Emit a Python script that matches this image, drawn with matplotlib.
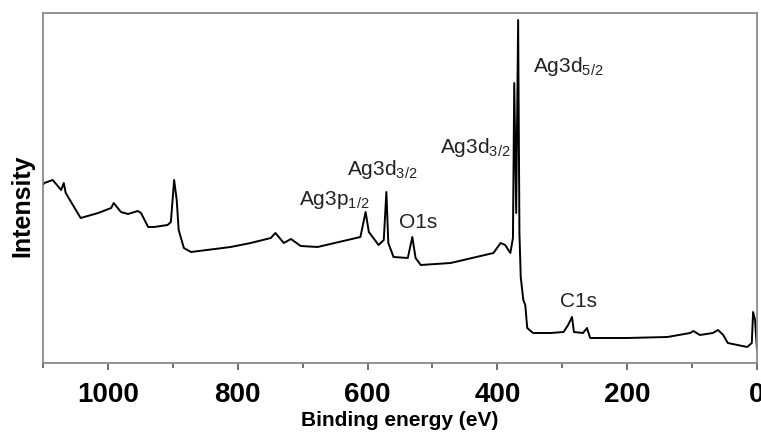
import numpy as np
import matplotlib.pyplot as plt
from matplotlib.ticker import MultipleLocator

plt.rcParams['font.family'] = ['Liberation Sans', 'DejaVu Sans']
plt.rcParams['mathtext.default'] = 'regular'

# XPS survey spectrum (binding energy in eV, intensity a.u.)
energy = [1100, 1098, 1085, 1072, 1068, 1065, 1042, 1015, 995, 991, 980, 969,
          954, 949, 938, 929, 908, 903, 898, 894, 891, 883, 872, 811, 780, 749,
          742, 729, 718, 703, 677, 611, 603, 598, 583, 575, 571, 568, 560, 538,
          531, 526, 518, 472, 406, 395, 388, 380, 376, 374, 371, 368, 366, 364,
          360, 357, 354, 345, 318, 298, 291, 285, 282, 268, 262, 257, 200, 138,
          103, 98, 88, 68, 60, 52, 45, 15, 8, 6, 3, 0]
intensity = [178, 180, 183, 173, 180, 170, 145, 150, 155, 160, 151, 149,
             152, 150, 136, 136, 138, 141, 183, 163, 133, 115, 111, 116, 120, 125,
             130, 120, 124, 117, 116, 126, 151, 131, 118, 123, 171, 120, 106, 105,
             126, 105, 98, 100, 110, 120, 118, 110, 125, 280, 150, 343, 130, 86,
             63, 58, 35, 30, 30, 31, 38, 46, 31, 30, 35, 25, 25, 26,
             30, 32, 28, 30, 33, 28, 20, 16, 20, 51, 43, 13]

# peak labels: (main, sub, x, y)
peak_labels = [
    ("Ag3p", "1/2", 706, 163),
    ("Ag3d", "3/2", 631, 194),
    ("O1s", "", 552, 141),
    ("Ag3d", "3/2", 488, 216),
    ("Ag3d", "5/2", 345, 297),
    ("C1s", "", 303, 62),
]

fig = plt.figure(figsize=(7.61, 4.48), dpi=100)
ax = fig.add_axes([43/761, 85/448, 714/761, 350/448])

ax.plot(energy, intensity, color='black', lw=1.4)

ax.set_xlim(1100, 0)
ax.set_ylim(0, 350)
ax.xaxis.set_major_locator(MultipleLocator(200))
ax.xaxis.set_minor_locator(MultipleLocator(100))
ax.set_yticks([])

for s in ax.spines.values():
    s.set_color('#8a8a8a')
    s.set_linewidth(1.3)

ax.tick_params(axis='x', which='major', length=5, width=1.3, color='#666666',
               pad=9, labelsize=20)
ax.tick_params(axis='x', which='minor', length=3.5, width=1.3, color='#666666')
for lab in ax.get_xticklabels():
    lab.set_fontweight('bold')

ax.set_xlabel('Binding energy (eV)', fontsize=15, fontweight='bold', labelpad=2)
ax.set_ylabel('Intensity', fontsize=18, fontweight='bold')
ax.yaxis.set_label_coords(-0.012, 0.45)

for main, sub, x, y in peak_labels:
    txt = main if not sub else main + r'$_{' + sub + r'}$'
    ax.text(x, y, txt, fontsize=15, color='#222222', ha='left', va='center')

plt.savefig('out.png', dpi=100)
